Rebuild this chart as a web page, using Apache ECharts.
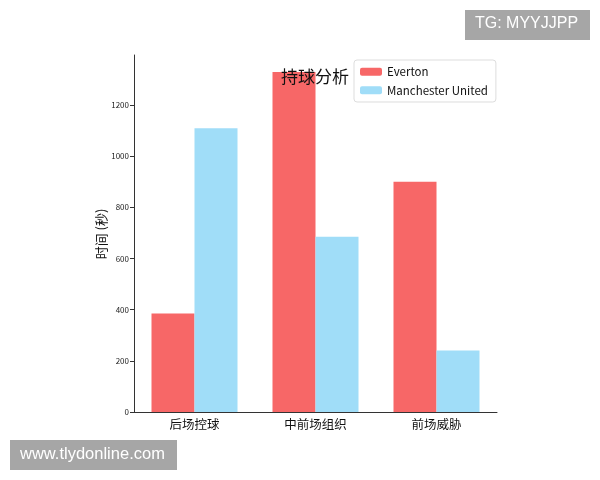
<!DOCTYPE html>
<html>
<head>
<meta charset="utf-8">
<script src="https://cdn.jsdelivr.net/npm/echarts@6/dist/echarts.min.js"></script>
<style>html,body{margin:0;padding:0;background:#fff}#c{width:600px;height:480px}</style>
</head>
<body>
<div id="c"></div>
<script>
const categories = ['后场控球', '中前场组织', '前场威胁'];
const everton = [385, 1330, 900];
const manUtd = [1110, 685, 240];
const yTicks = [0, 200, 400, 600, 800, 1000, 1200];
const yAxisName = '时间 (秒)';

const chart = echarts.init(document.getElementById('c'), null, {renderer: 'canvas'});
const font = '"Noto Sans CJK SC", "Noto Sans", sans-serif';
chart.setOption({
  backgroundColor: '#fff',
  animation: false,
  title: {
    text: '持球分析',
    left: 276, top: 63,
    textStyle: {fontSize: 17, fontWeight: 'normal', color: '#111', fontFamily: font}
  },
  legend: {
    orient: 'vertical', left: 354, top: 60,
    itemWidth: 22, itemHeight: 8, itemGap: 7,
    padding: [6, 8, 6, 6],
    borderColor: '#ddd', borderWidth: 1, borderRadius: 3,
    textStyle: {fontSize: 11.5, color: '#111', fontFamily: font},
    data: ['Everton', 'Manchester United']
  },
  grid: {left: 134, right: 103, top: 55, bottom: 68, containLabel: false},
  xAxis: {
    type: 'category', data: categories,
    axisLine: {lineStyle: {color: '#333', width: 1}},
    axisTick: {alignWithLabel: true, length: 4, lineStyle: {color: '#333'}},
    axisLabel: {fontSize: 12.5, color: '#111', margin: 6, fontFamily: font}
  },
  yAxis: {
    type: 'value', min: 0, max: 1396,
    axisLine: {show: true, lineStyle: {color: '#333', width: 1}},
    axisTick: {show: true, length: 4, lineStyle: {color: '#333'}, customValues: yTicks},
    axisLabel: {fontSize: 8, color: '#222', margin: 5, fontFamily: font, customValues: yTicks,
      formatter: function (v) { return String(v); }},
    splitLine: {show: false}
  },
  series: [
    {name: 'Everton', type: 'bar', data: everton, barWidth: 43, barGap: '0%',
     itemStyle: {color: '#f76767'}},
    {name: 'Manchester United', type: 'bar', data: manUtd, barWidth: 43,
     itemStyle: {color: '#a0ddf8'}}
  ],
  graphic: [
    {type: 'text', x: 101, y: 234, rotation: Math.PI / 2,
     style: {text: yAxisName, fill: '#111', font: '13px "Noto Sans CJK SC", sans-serif',
             textAlign: 'center', textVerticalAlign: 'middle'}, z: 50},
    {type: 'rect', left: 465, top: 10, shape: {width: 125, height: 30}, style: {fill: '#a6a6a6'}, z: 100},
    {type: 'text', left: 475, top: 16, style: {text: 'TG: MYYJJPP', fill: '#fff', font: '16px "Liberation Sans", Arial, sans-serif'}, z: 101},
    {type: 'rect', left: 10, top: 440, shape: {width: 167, height: 30}, style: {fill: '#a6a6a6'}, z: 100},
    {type: 'text', left: 20, top: 446, style: {text: 'www.tlydonline.com', fill: '#fff', font: '16.5px "Liberation Sans", Arial, sans-serif'}, z: 101}
  ]
});
</script>
</body>
</html>
